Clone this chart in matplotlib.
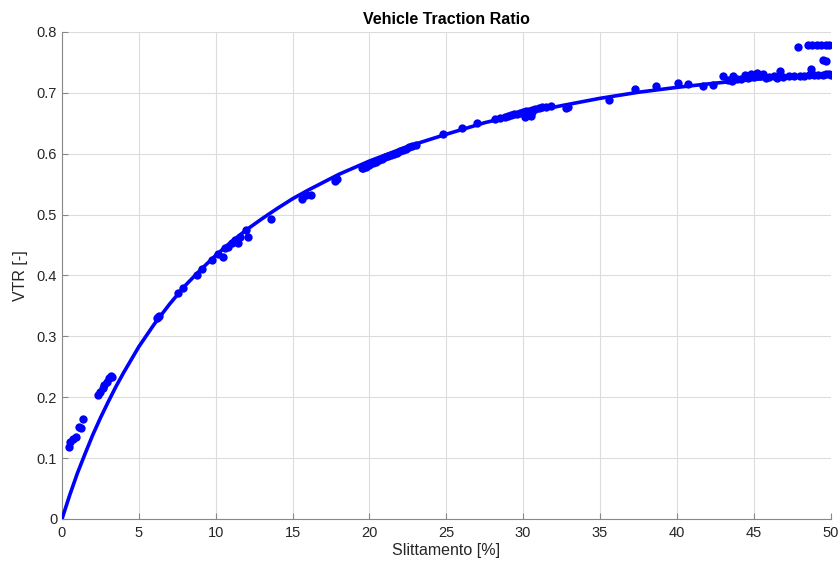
import numpy as np
import matplotlib
matplotlib.use('Agg')
import matplotlib.pyplot as plt

plt.rcParams['font.family'] = ['Liberation Sans', 'DejaVu Sans']

# measured points (slip %, VTR)
slip_meas = [0.45, 0.52, 0.73, 0.89, 1.1, 1.24, 1.39,
             2.32, 2.47, 2.69, 2.75, 2.9, 3.06, 3.19, 3.23,
             6.16, 6.26, 6.31, 7.56, 7.89, 8.76, 9.08, 9.73, 10.17, 10.45, 10.6,
             10.81, 11.03, 11.25, 11.47, 11.57, 12.0, 12.1, 13.6, 15.6, 15.9,
             16.2, 17.75, 17.9, 19.5,
             19.6, 19.8, 20.0, 20.2, 20.4, 20.6, 20.8, 21.0, 21.2, 21.4, 21.6,
             21.8, 22.0, 22.2, 22.4, 22.6, 22.8, 23.0,
             24.8, 26.0, 27.0,
             28.2, 28.5, 28.8, 29.0, 29.2, 29.4, 29.6, 29.8, 30.0, 30.2, 30.4,
             30.6, 30.8, 31.0, 31.2, 31.5, 31.8, 30.1, 30.5, 30.6,
             32.77, 32.9, 35.6, 37.25, 38.66, 40.07, 40.7, 41.7, 42.35, 43.0, 43.65,
             43.3, 43.6, 43.9, 44.2, 44.4, 44.6, 44.8, 45.0, 45.2, 45.4, 45.6,
             45.8, 46.0, 46.3, 46.7,
             46.5, 46.9, 47.3, 47.6, 48.0, 48.3, 48.6, 48.9, 49.2, 49.5, 49.7,
             49.9, 50.0,
             47.9, 48.5, 48.8, 49.1, 49.4, 49.7, 49.9, 49.5, 49.7, 48.75]
vtr_meas = [0.118, 0.127, 0.131, 0.135, 0.151, 0.150, 0.164,
            0.204, 0.209, 0.215, 0.220, 0.225, 0.231, 0.235, 0.233,
            0.330, 0.332, 0.333, 0.371, 0.379, 0.401, 0.410, 0.425, 0.435, 0.430, 0.445,
            0.447, 0.453, 0.458, 0.453, 0.464, 0.474, 0.464, 0.492, 0.525, 0.532,
            0.533, 0.556, 0.558, 0.576,
            0.577, 0.579, 0.582, 0.585, 0.587, 0.589, 0.592, 0.594, 0.596, 0.598, 0.600,
            0.602, 0.604, 0.606, 0.608, 0.611, 0.613, 0.615,
            0.632, 0.643, 0.650,
            0.657, 0.659, 0.661, 0.662, 0.663, 0.665, 0.666, 0.667, 0.669, 0.670, 0.671,
            0.672, 0.674, 0.675, 0.676, 0.677, 0.679, 0.660, 0.662, 0.668,
            0.675, 0.677, 0.688, 0.706, 0.711, 0.717, 0.715, 0.711, 0.713, 0.727, 0.728,
            0.721, 0.719, 0.722, 0.723, 0.729, 0.724, 0.731, 0.726, 0.732, 0.728, 0.731,
            0.725, 0.726, 0.727, 0.736,
            0.725, 0.726, 0.727, 0.727, 0.728, 0.728, 0.729, 0.729, 0.730, 0.730, 0.731,
            0.731, 0.730,
            0.776, 0.778, 0.778, 0.778, 0.779, 0.779, 0.779, 0.754, 0.753, 0.740]

# fitted curve
slip_fit = [0, 0.5, 1, 1.5, 2, 2.5, 3, 3.5, 4, 5, 6, 7, 8, 9, 10, 11, 12, 13,
            14, 15, 16, 18, 20, 22.5, 25, 27.5, 30, 32.5, 35, 37.5, 40, 42.5,
            45, 47.5, 50]
vtr_fit = [0, 0.039, 0.075, 0.107, 0.138, 0.166, 0.192, 0.217, 0.240, 0.283,
           0.320, 0.353, 0.383, 0.409, 0.433, 0.455, 0.475, 0.493, 0.510, 0.526,
           0.540, 0.566, 0.588, 0.612, 0.632, 0.651, 0.666, 0.679, 0.691, 0.701,
           0.709, 0.716, 0.722, 0.727, 0.731]

fig = plt.figure(figsize=(8.4, 5.63), dpi=100)
ax = fig.add_axes([0.0738, 0.0782, 0.915, 0.865])

ax.scatter(slip_meas, vtr_meas, s=36, color='#0000ff', zorder=3, linewidths=0)
ax.plot(slip_fit, vtr_fit, color='#0000ff', linewidth=2.6, zorder=4,
        solid_joinstyle='round')

ax.set_xlim(0, 50)
ax.set_ylim(0, 0.8)
ax.set_xticks(np.arange(0, 51, 5))
ax.set_yticks(np.arange(0, 0.81, 0.1))
ax.set_yticklabels(['0', '0.1', '0.2', '0.3', '0.4', '0.5', '0.6', '0.7', '0.8'])
ax.grid(True, color='#dcdcdc', linewidth=0.8)
ax.set_axisbelow(True)
for side in ['top', 'right']:
    ax.spines[side].set_visible(False)
for side in ['left', 'bottom']:
    ax.spines[side].set_color('#888888')
ax.tick_params(direction='in', length=4, colors='#888888', labelcolor='#262626',
               labelsize=10.5)
ax.tick_params(axis='x', pad=5)

ax.set_xlabel('Slittamento [%]', fontsize=11.5, color='#262626', labelpad=2)
ax.set_ylabel('VTR [-]', fontsize=11.5, color='#262626', labelpad=6)
ax.set_title('Vehicle Traction Ratio', fontsize=11.5, fontweight='bold', pad=6)

plt.savefig('out.png', dpi=100)
